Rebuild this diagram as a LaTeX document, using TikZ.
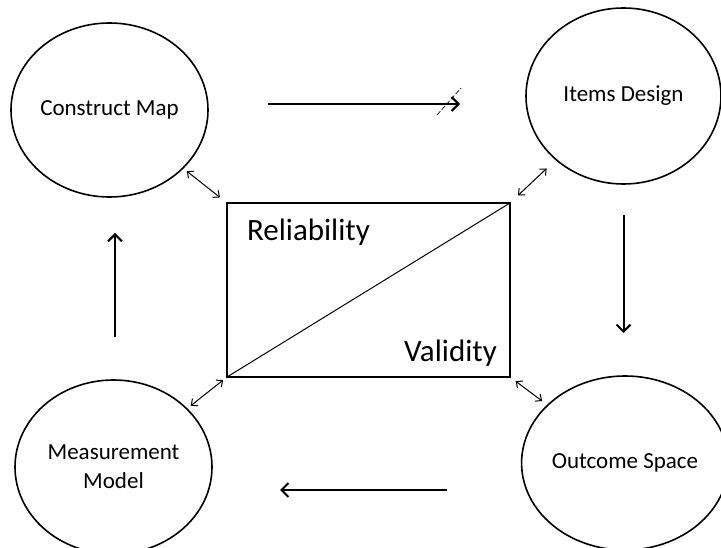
\documentclass[tikz,border=0pt]{standalone}
\usepackage{fontspec}
\setmainfont{Carlito}
\usetikzlibrary{shapes.geometric,arrows.meta}

\begin{document}
\begin{tikzpicture}[x=1pt,y=-1pt]
\tikzset{ >={Straight Barb[length=7pt,width=14pt]}, inner sep=0pt, outer sep=0pt,
  stage/.style={draw, ellipse, line width=1.6pt, align=center,
    font=\fontsize{23}{29}\selectfont},
  flow/.style={->, line width=2pt},
  link/.style={<->, line width=1pt, >={Straight Barb[length=5pt,width=9pt]}},
}
\useasboundingbox (0,0) rectangle (721,548);
%\draw [lightgray, dashed](0,0) grid[step=50] (721,548);

\node [stage, minimum width=197pt, minimum height=174pt] (CM) at (109.5,110) {Construct Map};
\node [stage, minimum width=195pt, minimum height=176pt] (ID) at (623.5,96)  {Items Design};
\node [stage, minimum width=192pt, minimum height=174pt] (OS) at (625,463)   {Outcome Space};
\node [stage, minimum width=197pt, minimum height=174pt] (MM) at (113.5,467) {Measurement\\Model};

\node [draw, line width=1.5pt, minimum width=283pt, minimum height=174pt] (RV) at (368.5,290) {};
\draw [line width=1pt] (RV.south west) -- (RV.north east);

\node [font=\fontsize{31}{31}\selectfont] (REL) at (308.5,232) {Reliability};
\node [font=\fontsize{31}{31}\selectfont] (VAL) at (450.5,353) {Validity};

\draw [flow] ([shift={(60,-6)}]CM.east)   -- ([shift={(-66,8)}]ID.west);
\draw [flow] ([shift={(0,31)}]ID.south)   -- ([shift={(-1.5,-43)}]OS.north);
\draw [flow] ([shift={(-75,27)}]OS.west)  -- ([shift={(68,23)}]MM.east);
\draw [flow] ([shift={(1.5,-43)}]MM.north) -- ([shift={(5.5,36)}]CM.south);

%\draw [dashed] (CM) -- (RV);
\draw [link, shorten <=5pt,  shorten >=9pt]  (CM) -- (RV.north west);
\draw [link, shorten <=13pt, shorten >=11pt] (ID) -- (RV.north east);
\draw [link, shorten <=5pt,  shorten >=5pt]  (MM) -- (RV.south west);
\draw [link, shorten <=7pt,  shorten >=7pt]  (OS) -- (RV.south east);

\draw [line width=0.7pt, dash pattern=on 5pt off 2pt] (437,115) -- (461,88);

\end{tikzpicture}
\end{document}
